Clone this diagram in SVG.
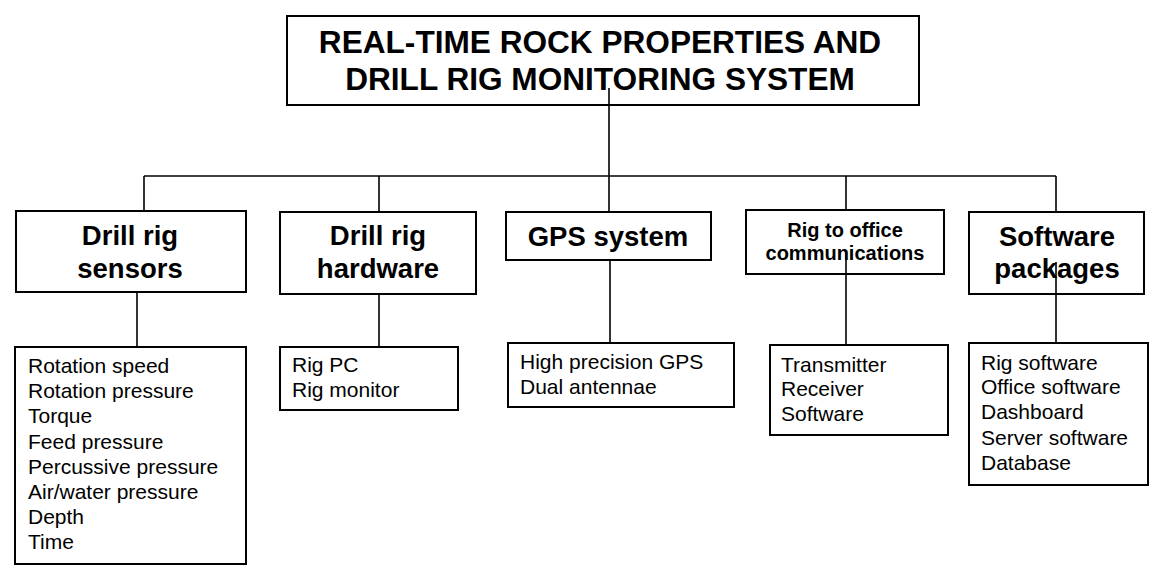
<svg xmlns="http://www.w3.org/2000/svg" width="1165" height="577" viewBox="0 0 1165 577">
<style>
.box{fill:#fff;stroke:#000;stroke-width:2}
.ln{stroke:#000;stroke-width:1.6;fill:none}
.t{font-family:"Liberation Sans",Arial,sans-serif;font-weight:bold;fill:#000;text-anchor:middle}
.l{font-family:"Liberation Sans",Arial,sans-serif;font-size:21px;fill:#000}
</style>
<rect width="1165" height="577" fill="#fff"/>
<g id="title">
<rect class="box" x="287" y="16" width="632" height="89"/>
<text class="t" x="600" y="53" font-size="31.6">REAL-TIME ROCK PROPERTIES AND</text>
<text class="t" x="600" y="90" font-size="31.6">DRILL RIG MONITORING SYSTEM</text>
</g>
<g id="sensors">
<rect class="box" x="16" y="211" width="230" height="81"/>
<text class="t" x="130" y="245" font-size="27.5">Drill rig</text>
<text class="t" x="130" y="278" font-size="27.5">sensors</text>
</g>
<g id="hardware">
<rect class="box" x="280" y="212" width="196" height="82"/>
<text class="t" x="378" y="245" font-size="27.5">Drill rig</text>
<text class="t" x="378" y="278" font-size="27.5">hardware</text>
</g>
<g id="gps">
<rect class="box" x="506" y="212" width="205" height="48"/>
<text class="t" x="608" y="246" font-size="27.5">GPS system</text>
</g>
<g id="comms">
<rect class="box" x="746" y="210" width="198" height="64"/>
<text class="t" x="845" y="237" font-size="20">Rig to office</text>
<text class="t" x="845" y="260" font-size="20">communications</text>
</g>
<g id="software">
<rect class="box" x="969" y="212" width="175" height="82"/>
<text class="t" x="1057" y="246" font-size="27.5">Software</text>
<text class="t" x="1057" y="278" font-size="27.5">packages</text>
</g>
<g id="connectors">
<line class="ln" x1="609" y1="88" x2="609" y2="176"/>
<line class="ln" x1="144" y1="176" x2="1056" y2="176"/>
<line class="ln" x1="144" y1="176" x2="144" y2="211"/>
<line class="ln" x1="379" y1="176" x2="379" y2="212"/>
<line class="ln" x1="609" y1="176" x2="609" y2="212"/>
<line class="ln" x1="846" y1="176" x2="846" y2="210"/>
<line class="ln" x1="1056" y1="176" x2="1056" y2="212"/>
<line class="ln" x1="137" y1="292" x2="137" y2="347"/>
<line class="ln" x1="379" y1="294" x2="379" y2="347"/>
<line class="ln" x1="610" y1="260" x2="610" y2="347"/>
<line class="ln" x1="846" y1="252" x2="846" y2="345"/>
<line class="ln" x1="1056" y1="262" x2="1056" y2="343"/>
</g>
<g id="sensors-list">
<rect class="box" x="15" y="347" width="231" height="217"/>
<text class="l" x="28" y="373">Rotation speed</text>
<text class="l" x="28" y="398">Rotation pressure</text>
<text class="l" x="28" y="423">Torque</text>
<text class="l" x="28" y="448.5">Feed pressure</text>
<text class="l" x="28" y="473.5">Percussive pressure</text>
<text class="l" x="28" y="499">Air/water pressure</text>
<text class="l" x="28" y="524">Depth</text>
<text class="l" x="28" y="549">Time</text>
</g>
<g id="hardware-list">
<rect class="box" x="280" y="347" width="178" height="63"/>
<text class="l" x="292" y="372">Rig PC</text>
<text class="l" x="292" y="397">Rig monitor</text>
</g>
<g id="gps-list">
<rect class="box" x="508" y="343" width="226" height="64"/>
<text class="l" x="520" y="369">High precision GPS</text>
<text class="l" x="520" y="394">Dual antennae</text>
</g>
<g id="comms-list">
<rect class="box" x="770" y="345" width="178" height="90"/>
<text class="l" x="781" y="372">Transmitter</text>
<text class="l" x="781" y="396">Receiver</text>
<text class="l" x="781" y="421">Software</text>
</g>
<g id="software-list">
<rect class="box" x="969" y="343" width="179" height="142"/>
<text class="l" x="981" y="370">Rig software</text>
<text class="l" x="981" y="394">Office software</text>
<text class="l" x="981" y="419">Dashboard</text>
<text class="l" x="981" y="445">Server software</text>
<text class="l" x="981" y="470">Database</text>
</g>
</svg>
